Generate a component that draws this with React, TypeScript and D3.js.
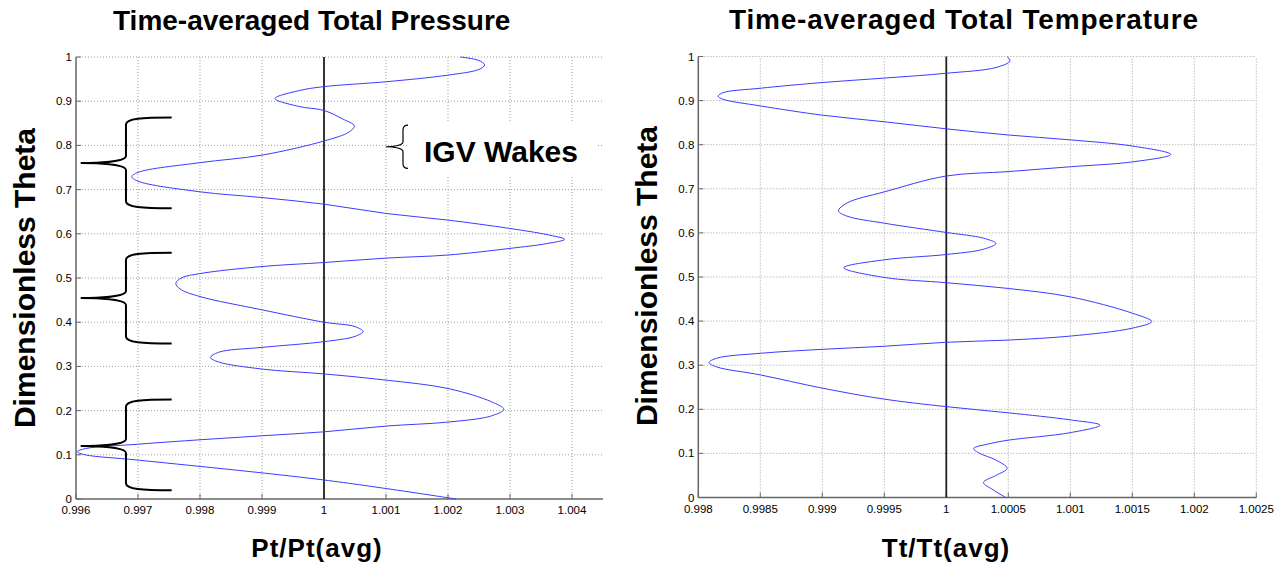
import React from 'react';
import * as d3 from 'd3';

// ---- Data: Time-averaged Total Pressure (theta, Pt/Pt(avg)) ----
const ptTheta = [0.000, 0.043, 0.088, 0.100, 0.107, 0.114, 0.124, 0.134, 0.143, 0.152, 0.165, 0.174, 0.188, 0.203, 0.220, 0.250, 0.269, 0.283, 0.294, 0.310, 0.320, 0.332, 0.343, 0.356, 0.368, 0.379, 0.390, 0.400, 0.428, 0.458, 0.475, 0.488, 0.500, 0.510, 0.526, 0.535, 0.545, 0.552, 0.567, 0.578, 0.5875, 0.598, 0.612, 0.631, 0.646, 0.667, 0.682, 0.695, 0.719, 0.729, 0.739, 0.761, 0.778, 0.810, 0.830, 0.844, 0.860, 0.879, 0.888, 0.906, 0.924, 0.933, 0.944, 0.959, 0.972, 0.982, 0.992, 1.000];
const ptValue = [1.00213, 1.0000, 0.9970, 0.99615, 0.99602, 0.99615, 0.9970, 0.9980, 0.9990, 1.0000, 1.0010, 1.0020, 1.0027, 1.0029, 1.0027, 1.0020, 1.0010, 1.0000, 0.9990, 0.9983, 0.99817, 0.9983, 0.9990, 1.0000, 1.0005, 1.00063, 1.0005, 1.0000, 0.9990, 0.9980, 0.99768, 0.99761, 0.9977, 0.9980, 0.9990, 1.0000, 1.0010, 1.0020, 1.0030, 1.0036, 1.00388, 1.0036, 1.0030, 1.0020, 1.0010, 1.0000, 0.9990, 0.9980, 0.9970, 0.99690, 0.9970, 0.9980, 0.9990, 1.0000, 1.0004, 1.00049, 1.0003, 1.0000, 0.9996, 0.99921, 0.9996, 1.0000, 1.0010, 1.0020, 1.0025, 1.00259, 1.0025, 1.0022];

// ---- Data: Time-averaged Total Temperature (theta, Tt/Tt(avg)) ----
const ttTheta = [0.000, 0.017, 0.034, 0.050, 0.066, 0.085, 0.100, 0.111, 0.122, 0.130, 0.147, 0.164, 0.176, 0.192, 0.206, 0.223, 0.248, 0.278, 0.296, 0.306, 0.316, 0.327, 0.336, 0.343, 0.352, 0.357, 0.366, 0.384, 0.399, 0.418, 0.455, 0.474, 0.487, 0.499, 0.521, 0.539, 0.551, 0.563, 0.576, 0.588, 0.601, 0.622, 0.638, 0.650, 0.668, 0.693, 0.729, 0.739, 0.750, 0.761, 0.778, 0.797, 0.811, 0.822, 0.836, 0.852, 0.867, 0.888, 0.903, 0.910, 0.918, 0.928, 0.941, 0.951, 0.962, 0.975, 0.990, 1.000];
const ttValue = [1.00048, 1.00038, 1.00030, 1.00040, 1.00049, 1.00040, 1.00027, 1.00022, 1.00035, 1.0005, 1.0010, 1.00124, 1.0010, 1.0005, 1.0000, 0.9995, 0.9990, 0.9985, 0.99815, 0.998086, 0.99815, 0.9985, 0.9990, 0.9995, 1.0000, 1.0005, 1.0010, 1.0015, 1.001656, 1.0015, 1.0010, 1.0005, 1.0000, 0.9995, 0.999174, 0.9995, 1.0000, 1.0003, 1.0004, 1.0003, 1.0000, 0.9995, 0.9992, 0.99913, 0.9992, 0.9995, 1.0000, 1.0005, 1.0010, 1.0015, 1.00181, 1.0015, 1.0010, 1.0005, 1.0000, 0.9995, 0.9990, 0.9985, 0.9982, 0.99816, 0.9982, 0.9985, 0.9990, 0.9995, 1.0000, 1.0004, 1.000514, 1.00049];

// ---- Ticks ----
const thetaTicks = [0, 0.1, 0.2, 0.3, 0.4, 0.5, 0.6, 0.7, 0.8, 0.9, 1];
const ptTicks = [0.996, 0.997, 0.998, 0.999, 1, 1.001, 1.002, 1.003, 1.004];
const ptTickLabels = ['0.996', '0.997', '0.998', '0.999', '1', '1.001', '1.002', '1.003', '1.004'];
const ttTicks = [0.998, 0.9985, 0.999, 0.9995, 1, 1.0005, 1.001, 1.0015, 1.002, 1.0025];
const ttTickLabels = ['0.998', '0.9985', '0.999', '0.9995', '1', '1.0005', '1.001', '1.0015', '1.002', '1.0025'];

// ---- Annotations (brace theta ranges: bottom, tip, top) ----
const braceBottom = [0.658, 0.352, 0.02];
const braceTip = [0.760, 0.455, 0.12];
const braceTop = [0.863, 0.557, 0.225];

const FONT = "'Liberation Sans', Arial, Helvetica, sans-serif";

function bracePath(tipX: number, spineX: number, endX: number, yTop: number, yTip: number, yBot: number, r: number) {
  const k = 0.35;
  return [
    `M${endX},${yTop}`,
    `C${spineX + (endX - spineX) * k},${yTop} ${spineX},${yTop + 1} ${spineX},${yTop + r}`,
    `L${spineX},${yTip - r}`,
    `C${spineX},${yTip - 1} ${tipX + (spineX - tipX) * k},${yTip} ${tipX},${yTip}`,
    `C${tipX + (spineX - tipX) * k},${yTip} ${spineX},${yTip + 1} ${spineX},${yTip + r}`,
    `L${spineX},${yBot - r}`,
    `C${spineX},${yBot - 1} ${spineX + (endX - spineX) * k},${yBot} ${endX},${yBot}`,
  ].join(' ');
}

type PanelProps = {
  x: d3.ScaleLinear<number, number>;
  y: d3.ScaleLinear<number, number>;
  xTicks: number[];
  xLabels: string[];
  thetaVals: number[];
  vals: number[];
  gridRight: number;
};

function Panel({ x, y, xTicks, xLabels, thetaVals, vals, gridRight }: PanelProps) {
  const [x0] = x.range();
  const [yb, yt] = y.range();
  const line = d3
    .line<number>()
    .x((_, i) => x(vals[i]))
    .y((d) => y(d))
    .curve(d3.curveCatmullRom.alpha(0.5));
  const grid = '#a0a0a0';
  return (
    <g>
      {thetaTicks.filter((t) => t > 0).map((t) => (
        <line key={'h' + t} x1={x0} x2={gridRight} y1={y(t)} y2={y(t)} stroke={grid} strokeWidth={1} strokeDasharray="1 2" />
      ))}
      {xTicks.slice(1).map((t) => (
        <line key={'v' + t} x1={x(t)} x2={x(t)} y1={yb} y2={yt} stroke={grid} strokeWidth={1} strokeDasharray="1 2" />
      ))}
      <line x1={x0} x2={x0} y1={yb} y2={yt} stroke="#666" strokeWidth={1.5} />
      <line x1={x0} x2={gridRight} y1={yb} y2={yb} stroke="#666" strokeWidth={1.5} />
      {thetaTicks.map((t) => (
        <g key={'yt' + t}>
          <line x1={x0} x2={x0 + 5} y1={y(t)} y2={y(t)} stroke="#666" strokeWidth={1} />
          <text x={x0 - 4} y={y(t) + 4} textAnchor="end" fontSize={11.5} fontFamily={FONT} fill="#000">{String(t)}</text>
        </g>
      ))}
      {xTicks.map((t, i) => (
        <g key={'xt' + t}>
          <line x1={x(t)} x2={x(t)} y1={yb} y2={yb - 5} stroke="#666" strokeWidth={1} />
          <text x={x(t)} y={yb + 15} textAnchor="middle" fontSize={11.5} fontFamily={FONT} fill="#000">{xLabels[i]}</text>
        </g>
      ))}
      <line x1={x(1)} x2={x(1)} y1={yb} y2={yt} stroke="#222" strokeWidth={1.8} />
      <path d={line(thetaVals) || ''} fill="none" stroke="#3b3bff" strokeWidth={1} />
    </g>
  );
}

export default function App() {
  const xPt = d3.scaleLinear().domain([0.996, 1.0045]).range([76, 603]);
  const yPt = d3.scaleLinear().domain([0, 1]).range([499, 57]);
  const xTt = d3.scaleLinear().domain([0.998, 1.0025]).range([698.3, 1256.3]);
  const yTt = d3.scaleLinear().domain([0, 1]).range([497.5, 56.5]);

  const braceTipX = xPt(0.996076);
  const braceSpineX = xPt(0.996806);
  const braceEndX = xPt(0.997543);

  return (
    <svg width={1288} height={567} style={{ position: 'absolute', left: 0, top: 0, background: '#fff' }}>
      <rect x={0} y={0} width={1288} height={567} fill="#fff" />
      <Panel x={xPt} y={yPt} xTicks={ptTicks} xLabels={ptTickLabels} thetaVals={ptTheta} vals={ptValue} gridRight={603} />
      <Panel x={xTt} y={yTt} xTicks={ttTicks} xLabels={ttTickLabels} thetaVals={ttTheta} vals={ttValue} gridRight={1256.3} />

      {braceTip.map((t, i) => (
        <path key={'br' + i}
          d={bracePath(braceTipX, braceSpineX, braceEndX, yPt(braceTop[i]), yPt(t), yPt(braceBottom[i]), 7)}
          fill="none" stroke="#000" strokeWidth={2} />
      ))}

      <rect x={408} y={122} width={190} height={53} fill="#fff" />
      <path d={bracePath(xPt(1.001), xPt(1.001274), xPt(1.001355), yPt(0.846), yPt(0.797), yPt(0.748), 5)}
        fill="none" stroke="#000" strokeWidth={1.2} />
      <text x={xPt(1.001613)} y={yPt(0.763)} fontSize={30} fontWeight="bold" fontFamily={FONT} fill="#000">IGV Wakes</text>

      <text x={113} y={30} fontSize={28} fontWeight="bold" fontFamily={FONT} fill="#000">Time-averaged Total Pressure</text>
      <text x={729} y={29} fontSize={28} fontWeight="bold" letterSpacing={0.8} fontFamily={FONT} fill="#000">Time-averaged Total Temperature</text>

      <text transform="translate(35,278) rotate(-90)" textAnchor="middle" fontSize={30} fontWeight="bold" fontFamily={FONT} fill="#000">Dimensionless Theta</text>
      <text transform="translate(657,276) rotate(-90)" textAnchor="middle" fontSize={30} fontWeight="bold" fontFamily={FONT} fill="#000">Dimensionless Theta</text>

      <text x={317} y={557} textAnchor="middle" fontSize={26} fontWeight="bold" letterSpacing={1} fontFamily={FONT} fill="#000">Pt/Pt(avg)</text>
      <text x={946} y={557} textAnchor="middle" fontSize={26} fontWeight="bold" letterSpacing={1} fontFamily={FONT} fill="#000">Tt/Tt(avg)</text>
    </svg>
  );
}
